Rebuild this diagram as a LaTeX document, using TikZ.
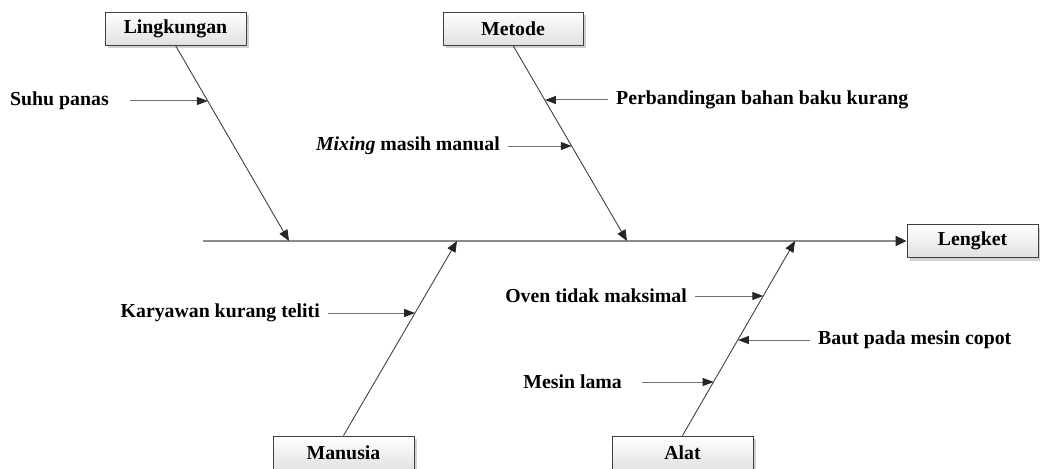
\documentclass[tikz,border=0pt]{standalone}
\usepackage{fontspec}
\setmainfont{Liberation Serif}
\usetikzlibrary{arrows.meta,shadows,calc}
\definecolor{bonec}{HTML}{404040}
\definecolor{spinec}{HTML}{8A8A8A}
\definecolor{subc}{HTML}{707070}
\tikzset{
  catbox/.style={draw=bonec, line width=0.9pt, top color=white, bottom color=black!12,
    minimum width=141pt, minimum height=33pt, inner sep=0pt,
    font=\fontsize{19.8}{22}\selectfont\bfseries,
    drop shadow={shadow xshift=3pt, shadow yshift=-3pt, fill=black!18, opacity=1}},
  lbl/.style={inner sep=0pt, font=\fontsize{19.8}{22}\selectfont\bfseries},
  bone/.style={draw=bonec, line width=0.9pt, -{Triangle[length=11pt,width=9pt,color=black!85]}},
  subarrow/.style={draw=subc, line width=1pt, -{Triangle[length=11pt,width=8pt,color=black!85]}},
  spine/.style={draw=spinec, line width=2pt, -{Triangle[length=11pt,width=10pt,color=black!85]}}
}
\begin{document}
\begin{tikzpicture}[x=1pt,y=-1pt]
\useasboundingbox (0,0) rectangle (1040,468);
% category boxes
\node[catbox] (ling) at (175.5,28.5) {Lingkungan};
\node[catbox, minimum width=140pt] (met) at (513,28.5) {Metode};
\node[catbox, minimum width=131pt] (eff) at (972.5,241) {Lengket};
\node[catbox, minimum height=35pt] (man) at (343.5,453.5) {\raisebox{1pt}{Manusia}};
\node[catbox, minimum height=35pt] (alat) at (682.5,453.5) {\raisebox{1pt}{Alat}};
% spine and bone ends
\coordinate (s0) at (203,241);
\coordinate (lT) at (289,241);
\coordinate (mT) at (627,241);
\coordinate (maT) at (457,241);
\coordinate (aT) at (795,241);
\draw[spine] (s0) -- (eff.west);
\draw[bone] (ling.south) -- (lT);
\draw[bone] (met.south) -- (mT);
\draw[bone] (man.north) -- (maT);
\draw[bone] (alat.north) -- (aT);
% sub-cause labels
\node[lbl, anchor=west] (t1) at (10,101) {Suhu panas};
\node[lbl, anchor=west] (t2) at (616,100) {Perbandingan bahan baku kurang};
\node[lbl, anchor=east] (t3) at (500,146) {\textit{Mixing} masih manual};
\node[lbl, anchor=east] (t4) at (320,313) {Karyawan kurang teliti};
\node[lbl, anchor=east] (t5) at (687,296) {Oven tidak maksimal};
\node[lbl, anchor=west] (t6) at (818,340) {Baut pada mesin copot};
\node[lbl, anchor=east] (t7) at (622,382) {Mesin lama};
% arrow start and end coordinates
\coordinate (a1s) at (130,101);  \coordinate (a1e) at ($(ling.south)!{56/196}!(lT)$);
\coordinate (a2s) at (608,100);  \coordinate (a2e) at ($(met.south)!{55/196}!(mT)$);
\coordinate (a3s) at (508,146);  \coordinate (a3e) at ($(met.south)!{101/196}!(mT)$);
\coordinate (a4s) at (328,313);  \coordinate (a4e) at ($(maT)!{72/195}!(man.north)$);
\coordinate (a5s) at (695,296);  \coordinate (a5e) at ($(aT)!{55/195}!(alat.north)$);
\coordinate (a6s) at (810,340);  \coordinate (a6e) at ($(aT)!{99/195}!(alat.north)$);
\coordinate (a7s) at (642,382);  \coordinate (a7e) at ($(aT)!{141/195}!(alat.north)$);
\draw[subarrow] (a1s) -- (a1e |- a1s);
\draw[subarrow] (a2s) -- (a2e |- a2s);
\draw[subarrow] (a3s) -- (a3e |- a3s);
\draw[subarrow] (a4s) -- (a4e |- a4s);
\draw[subarrow] (a5s) -- (a5e |- a5s);
\draw[subarrow] (a6s) -- (a6e |- a6s);
\draw[subarrow] (a7s) -- (a7e |- a7s);
\end{tikzpicture}
\end{document}
